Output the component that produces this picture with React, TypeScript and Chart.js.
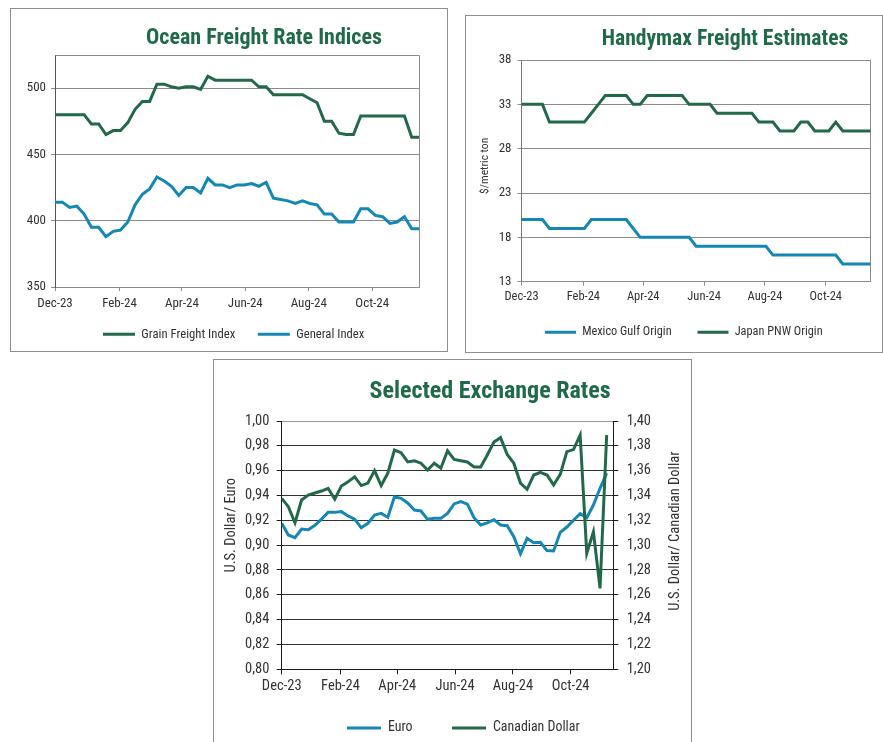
import React, { useEffect, useRef } from 'react';
import { Chart, registerables } from 'chart.js';

Chart.register(...registerables);

const FF = "'Liberation Sans Narrow', 'Roboto Condensed', 'Arial Narrow', Roboto, sans-serif";
const GREEN = '#22694a';
const BLUE = '#1487b4';
const TITLE_GREEN = '#1f6a47';
const TEXT = '#333333';

// ---------- time axis ----------
const START_DATE = '2023-12-01';
const END_DATE = '2024-11-15';
const X_TICK_DATES = ['2023-12-01', '2024-02-01', '2024-04-01', '2024-06-01', '2024-08-01', '2024-10-01'];
const X_TICK_LABELS = ['Dec-23', 'Feb-24', 'Apr-24', 'Jun-24', 'Aug-24', 'Oct-24'];

// ---------- Ocean Freight Rate Indices ----------
const OCEAN_TICKS = [350, 400, 450, 500];
const OCEAN_MIN = 350;
const OCEAN_MAX = 525;
const GRAIN_FREIGHT = [480, 480, 480, 480, 480, 473, 473, 465, 468, 468, 474, 484, 490, 490, 503, 503, 501, 500, 501, 501, 499, 509, 506, 506, 506, 506, 506, 506, 501, 501, 495, 495, 495, 495, 495, 492, 489, 475, 475, 466, 465, 465, 479, 479, 479, 479, 479, 479, 479, 463, 463];
const GENERAL_INDEX = [414, 414, 410, 411, 405, 395, 395, 388, 392, 393, 399, 412, 420, 424, 433, 430, 426, 419, 425, 425, 421, 432, 427, 427, 425, 427, 427, 428, 426, 429, 417, 416, 415, 413, 415, 413, 412, 405, 405, 399, 399, 399, 409, 409, 404, 403, 398, 399, 403, 394, 394];

// ---------- Handymax Freight Estimates ----------
const HANDY_TICKS = [13, 18, 23, 28, 33, 38];
const MEXICO_GULF = [20, 20, 20, 20, 19, 19, 19, 19, 19, 19, 20, 20, 20, 20, 20, 20, 19, 18, 18, 18, 18, 18, 18, 18, 18, 17, 17, 17, 17, 17, 17, 17, 17, 17, 17, 17, 16, 16, 16, 16, 16, 16, 16, 16, 16, 16, 15, 15, 15, 15, 15];
const JAPAN_PNW = [33, 33, 33, 33, 31, 31, 31, 31, 31, 31, 32, 33, 34, 34, 34, 34, 33, 33, 34, 34, 34, 34, 34, 34, 33, 33, 33, 33, 32, 32, 32, 32, 32, 32, 31, 31, 31, 30, 30, 30, 31, 31, 30, 30, 30, 31, 30, 30, 30, 30, 30];

// ---------- Selected Exchange Rates ----------
const EURO_TICKS = [0.8, 0.82, 0.84, 0.86, 0.88, 0.9, 0.92, 0.94, 0.96, 0.98, 1.0];
const CAD_TICKS = [1.2, 1.22, 1.24, 1.26, 1.28, 1.3, 1.32, 1.34, 1.36, 1.38, 1.4];
const EURO = [0.9176, 0.9082, 0.906, 0.913, 0.9125, 0.916, 0.921, 0.9264, 0.9264, 0.927, 0.9235, 0.921, 0.914, 0.9176, 0.9243, 0.9256, 0.9224, 0.939, 0.9377, 0.934, 0.9283, 0.9275, 0.9208, 0.9216, 0.9216, 0.9256, 0.9332, 0.935, 0.933, 0.9221, 0.9162, 0.918, 0.9205, 0.9162, 0.9157, 0.9068, 0.893, 0.9055, 0.902, 0.9023, 0.8956, 0.8953, 0.9103, 0.9146, 0.92, 0.9254, 0.9221, 0.9323, 0.9458, 0.9579];
const CAD = [1.3377, 1.331, 1.318, 1.3364, 1.3404, 1.342, 1.3436, 1.3458, 1.337, 1.3477, 1.351, 1.355, 1.348, 1.35, 1.36, 1.348, 1.358, 1.3766, 1.3745, 1.367, 1.368, 1.366, 1.3605, 1.366, 1.362, 1.376, 1.369, 1.368, 1.367, 1.363, 1.363, 1.3726, 1.383, 1.3866, 1.373, 1.366, 1.35, 1.345, 1.3565, 1.3587, 1.3565, 1.3485, 1.357, 1.3753, 1.377, 1.3887, 1.2934, 1.3108, 1.2652, 1.3887];

const dayOf = (d: string) => Math.round((Date.parse(d) - Date.parse(START_DATE)) / 86400000);
const X_MAX = dayOf(END_DATE);
const weekly = (vals: number[]) => vals.map((y, i) => ({ x: i * 7, y }));
const comma2 = (v: number) => v.toFixed(2).replace('.', ',');

// ---------- plugins ----------
const shiftBoxes: any = {
  id: 'shiftBoxes',
  afterLayout(chart: any, _a: any, opts: any) {
    const t = chart.titleBlock;
    if (t && opts.titleDx) { t.left += opts.titleDx; t.right += opts.titleDx; }
    const l = chart.legend;
    if (l && opts.legendDx) { l.left += opts.legendDx; l.right += opts.legendDx; }
    // move only the top edge so the legend's clip box grows upward
    if (l && opts.legendDy) { l.top += opts.legendDy; }
  },
};

const plotBorder: any = {
  id: 'plotBorder',
  beforeDatasetsDraw(chart: any, _a: any, opts: any) {
    if (!opts || !opts.color) return;
    const { ctx, chartArea } = chart;
    const al = (p: number) => Math.round(p - 0.5) + 0.5;
    const l = al(chartArea.left), r = al(chartArea.right), t = al(chartArea.top), b = al(chartArea.bottom);
    ctx.save();
    ctx.strokeStyle = opts.color;
    ctx.lineWidth = 1;
    ctx.beginPath();
    ctx.moveTo(l, t); ctx.lineTo(r, t); ctx.lineTo(r, b);
    ctx.stroke();
    ctx.restore();
  },
};

const sideTitles: any = {
  id: 'sideTitles',
  afterDraw(chart: any, _a: any, opts: any) {
    const items = (opts && opts.items) || [];
    const { ctx, chartArea } = chart;
    for (const it of items) {
      const x = it.side === 'left' ? chartArea.left - it.offset : chartArea.right + it.offset;
      const y = (chartArea.top + chartArea.bottom) / 2 + (it.dy || 0);
      ctx.save();
      ctx.translate(x, y);
      ctx.rotate(-Math.PI / 2);
      ctx.font = `${it.size}px ${FF}`;
      ctx.fillStyle = TEXT;
      ctx.textAlign = 'center';
      ctx.textBaseline = 'middle';
      ctx.fillText(it.text, 0, 0);
      ctx.restore();
    }
  },
};

function xScale(o: { size: number; tickLen: number; pad: number; color: string; height: number }): any {
  return {
    type: 'linear',
    min: 0,
    max: X_MAX,
    afterBuildTicks: (axis: any) => { axis.ticks = X_TICK_DATES.map((d) => ({ value: dayOf(d) })); },
    afterFit: (axis: any) => { axis.height = o.height; },
    grid: { display: true, drawOnChartArea: false, drawTicks: true, tickLength: o.tickLen, tickColor: o.color, color: o.color },
    border: { display: true, color: o.color, width: 1 },
    ticks: {
      font: { family: FF, size: o.size },
      color: TEXT,
      padding: o.pad,
      autoSkip: false,
      maxRotation: 0,
      callback: (v: number) => {
        const i = X_TICK_DATES.findIndex((d) => dayOf(d) === v);
        return i >= 0 ? X_TICK_LABELS[i] : '';
      },
    },
  };
}

function line(label: string, data: number[], color: string, extra: any = {}): any {
  return { label, data: weekly(data), borderColor: color, backgroundColor: color, borderWidth: 3, pointRadius: 0, tension: 0, ...extra };
}

function legendOpts(size: number, padding: number, width: number, maxHeight: number): any {
  return {
    position: 'bottom',
    align: 'start',
    maxHeight,
    labels: {
      usePointStyle: true,
      pointStyle: 'line',
      pointStyleWidth: width,
      padding,
      color: TEXT,
      font: { family: FF, size },
      sort: (a: any, b: any) => a.datasetIndex - b.datasetIndex,
    },
  };
}

function oceanConfig(): any {
  return {
    type: 'line',
    data: {
      datasets: [
        line('Grain Freight Index', GRAIN_FREIGHT, GREEN),
        line('General Index', GENERAL_INDEX, BLUE),
      ],
    },
    options: {
      responsive: false,
      animation: false,
      events: [],
      layout: { padding: { left: 0, right: 27, top: 0, bottom: 0 } },
      plugins: {
        title: { display: true, text: 'Ocean Freight Rate Indices', color: TITLE_GREEN, font: { family: FF, size: 22, weight: 'bold' }, padding: { top: 15.8, bottom: 3.8 } },
        legend: legendOpts(12.7, 22.6, 32, 33),
        tooltip: { enabled: false },
        shiftBoxes: { titleDx: 49, legendDx: 69.4, legendDy: -11.6 },
        plotBorder: { color: '#8c8c8c' },
      },
      scales: {
        x: xScale({ size: 13, tickLen: 4, pad: 5.2, color: '#8c8c8c', height: 30 }),
        y: {
          type: 'linear',
          min: OCEAN_MIN,
          max: OCEAN_MAX,
          afterBuildTicks: (axis: any) => { axis.ticks = OCEAN_TICKS.map((v) => ({ value: v })); },
          afterFit: (axis: any) => { axis.width = 44; },
          grid: { color: '#8c8c8c', tickLength: 4, tickColor: '#8c8c8c' },
          border: { display: true, color: '#555555' },
          ticks: { font: { family: FF, size: 13 }, color: TEXT, padding: 5 },
        },
      },
    },
    plugins: [shiftBoxes, plotBorder],
  };
}

function handyConfig(): any {
  return {
    type: 'line',
    data: {
      datasets: [
        line('Mexico Gulf Origin', MEXICO_GULF, BLUE),
        line('Japan PNW Origin', JAPAN_PNW, GREEN),
      ],
    },
    options: {
      responsive: false,
      animation: false,
      events: [],
      layout: { padding: { left: 0, right: 11.3, top: 0, bottom: 3.55 } },
      plugins: {
        title: { display: true, text: 'Handymax Freight Estimates', color: TITLE_GREEN, font: { family: FF, size: 21.6, weight: 'bold' }, padding: { top: 11.04, bottom: 7.04 } },
        legend: legendOpts(12.3, 25.85, 31, 38.75),
        tooltip: { enabled: false },
        shiftBoxes: { titleDx: 56.65, legendDx: 53.15, legendDy: -9.4 },
        plotBorder: { color: '#8c8c8c' },
        sideTitles: { items: [{ side: 'left', offset: 36.5, dy: -5, size: 11.5, text: '$/metric ton' }] },
      },
      scales: {
        x: xScale({ size: 12.5, tickLen: 4, pad: 3.4, color: '#8c8c8c', height: 28 }),
        y: {
          type: 'linear',
          min: HANDY_TICKS[0],
          max: HANDY_TICKS[HANDY_TICKS.length - 1],
          afterBuildTicks: (axis: any) => { axis.ticks = HANDY_TICKS.map((v) => ({ value: v })); },
          afterFit: (axis: any) => { axis.width = 55.5; },
          grid: { color: '#8c8c8c', tickLength: 4, tickColor: '#8c8c8c' },
          border: { display: true, color: '#777777' },
          ticks: { font: { family: FF, size: 13 }, color: TEXT, padding: 6 },
        },
      },
    },
    plugins: [shiftBoxes, plotBorder, sideTitles],
  };
}

function fxConfig(): any {
  return {
    type: 'line',
    data: {
      datasets: [
        line('Euro', EURO, BLUE, { yAxisID: 'y', order: 1 }),
        line('Canadian Dollar', CAD, GREEN, { yAxisID: 'y2', order: 0 }),
      ],
    },
    options: {
      responsive: false,
      animation: false,
      events: [],
      layout: { padding: { left: 0, right: 0, top: 0, bottom: 0 } },
      plugins: {
        title: { display: true, text: 'Selected Exchange Rates', color: TITLE_GREEN, font: { family: FF, size: 24, weight: 'bold' }, padding: { top: 17.3, bottom: 14.9 } },
        legend: legendOpts(13.9, 39.5, 34, 42.7),
        tooltip: { enabled: false },
        shiftBoxes: { titleDx: 38, legendDx: 93.5, legendDy: -17.75 },
        sideTitles: {
          items: [
            { side: 'left', offset: 50.7, dy: -20, size: 14.5, text: 'U.S. Dollar/ Euro' },
            { side: 'right', offset: 61.7, dy: -14, size: 14.5, text: 'U.S. Dollar/ Canadian Dollar' },
          ],
        },
      },
      scales: {
        x: xScale({ size: 14.5, tickLen: 5, pad: 3.7, color: '#1a1a1a', height: 30 }),
        y: {
          type: 'linear',
          position: 'left',
          min: EURO_TICKS[0],
          max: EURO_TICKS[EURO_TICKS.length - 1],
          afterBuildTicks: (axis: any) => { axis.ticks = EURO_TICKS.map((v) => ({ value: v })); },
          afterFit: (axis: any) => { axis.width = 67.7; },
          grid: {
            color: (c: any) => (c.tick && c.tick.value >= 0.999 ? '#9a9a9a' : '#333333'),
            tickLength: 5,
            tickColor: '#1a1a1a',
          },
          border: { display: true, color: '#1a1a1a' },
          ticks: { font: { family: FF, size: 14.5 }, color: TEXT, padding: 7.4, callback: (v: number) => comma2(v) },
        },
        y2: {
          type: 'linear',
          position: 'right',
          min: CAD_TICKS[0],
          max: CAD_TICKS[CAD_TICKS.length - 1],
          afterBuildTicks: (axis: any) => { axis.ticks = CAD_TICKS.map((v) => ({ value: v })); },
          afterFit: (axis: any) => { axis.width = 76.7; },
          grid: { drawOnChartArea: false, tickLength: 5, tickColor: '#1a1a1a', color: '#1a1a1a' },
          border: { display: true, color: '#1a1a1a' },
          ticks: { font: { family: FF, size: 14.5 }, color: TEXT, padding: 8.4, callback: (v: number) => comma2(v) },
        },
      },
    },
    plugins: [shiftBoxes, sideTitles],
  };
}

function ChartCanvas(props: { make: () => any; left: number; top: number; width: number; height: number }) {
  const ref = useRef<HTMLCanvasElement>(null);
  useEffect(() => {
    const chart = new Chart(ref.current as HTMLCanvasElement, props.make());
    return () => chart.destroy();
  }, []);
  return (
    <canvas
      ref={ref}
      width={props.width}
      height={props.height}
      style={{ position: 'absolute', left: props.left, top: props.top, width: props.width, height: props.height }}
    />
  );
}

const panel = (left: number, top: number, width: number, height: number): React.CSSProperties => ({
  position: 'absolute',
  left,
  top,
  width,
  height,
  boxSizing: 'border-box',
  border: '1px solid #8f8f8f',
});

export default function App() {
  return (
    <div style={{ position: 'absolute', left: 0, top: 0, width: 883, height: 742, overflow: 'hidden', background: '#ffffff' }}>
      <div style={panel(10, 8, 438, 344)} />
      <div style={panel(465, 15, 418, 338)} />
      <div style={panel(213, 359, 479, 400)} />
      <ChartCanvas make={oceanConfig} left={11} top={9} width={435} height={341} />
      <ChartCanvas make={handyConfig} left={466} top={16} width={416} height={336} />
      <ChartCanvas make={fxConfig} left={214} top={360} width={476} height={382} />
    </div>
  );
}
